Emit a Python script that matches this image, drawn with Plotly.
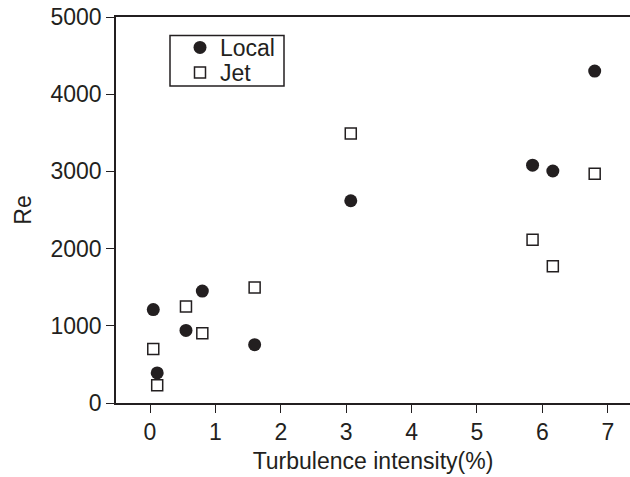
import plotly.graph_objects as go

# Data
turbulence = [0.05, 0.11, 0.55, 0.80, 1.60, 3.07, 5.85, 6.16, 6.80]
re_local = [1210, 390, 940, 1450, 755, 2620, 3080, 3005, 4300]
re_jet = [700, 230, 1250, 905, 1495, 3490, 2115, 1770, 2970]
x_ticks = [0, 1, 2, 3, 4, 5, 6, 7]
y_ticks = [0, 1000, 2000, 3000, 4000, 5000]

INK = "#231f20"
FONT = "Liberation Sans, Arial, Helvetica, sans-serif"
FS = 23

W_PLOT, H_PLOT, L, B = 514, 386, 116, 74

def px_x(p):
    return (p - L) / W_PLOT

def px_y(p):
    return (477 - B - p) / H_PLOT

fig = go.Figure()
fig.add_trace(go.Scatter(
    x=turbulence, y=re_local, mode="markers", name="Local", legend="legend",
    marker=dict(symbol="circle", size=13, color=INK, line=dict(width=0)),
))
fig.add_trace(go.Scatter(
    x=turbulence, y=re_jet, mode="markers", name="Jet", legend="legend2",
    marker=dict(symbol="square", size=11, color="white", line=dict(width=1.5, color=INK)),
))

# legend frame
fig.add_shape(type="rect", xref="paper", yref="paper",
              x0=px_x(170), x1=px_x(284), y0=px_y(86), y1=px_y(35.5),
              line=dict(color=INK, width=1.5), fillcolor="rgba(0,0,0,0)")

axis_common = dict(
    showgrid=False, zeroline=False, showline=True, linecolor=INK, linewidth=1.5,
    ticks="outside", ticklen=8, tickwidth=1.3, tickcolor=INK,
    tickfont=dict(family=FONT, size=FS, color=INK),
)

leg_common = dict(xanchor="left", yanchor="top", bgcolor="rgba(0,0,0,0)", borderwidth=0,
                  font=dict(family=FONT, size=FS, color=INK), itemsizing="trace")

fig.update_layout(
    width=630, height=477,
    margin=dict(l=L, r=0, t=17, b=B),
    paper_bgcolor="white", plot_bgcolor="white",
    font=dict(family=FONT, size=FS, color=INK),
    showlegend=True,
    legend=dict(x=px_x(180), y=px_y(26), **leg_common),
    legend2=dict(x=px_x(180), y=px_y(51), **leg_common),
    xaxis=dict(
        range=[-0.52, 7.34], tickvals=x_ticks, mirror=True,
        title=dict(text="Turbulence intensity(%)", font=dict(family=FONT, size=FS, color=INK), standoff=9),
        **axis_common,
    ),
    yaxis=dict(
        range=[0, 5000], tickvals=y_ticks,
        title=dict(text="Re", font=dict(family=FONT, size=FS, color=INK), standoff=12),
        **axis_common,
    ),
)

fig.write_html("out.html")
